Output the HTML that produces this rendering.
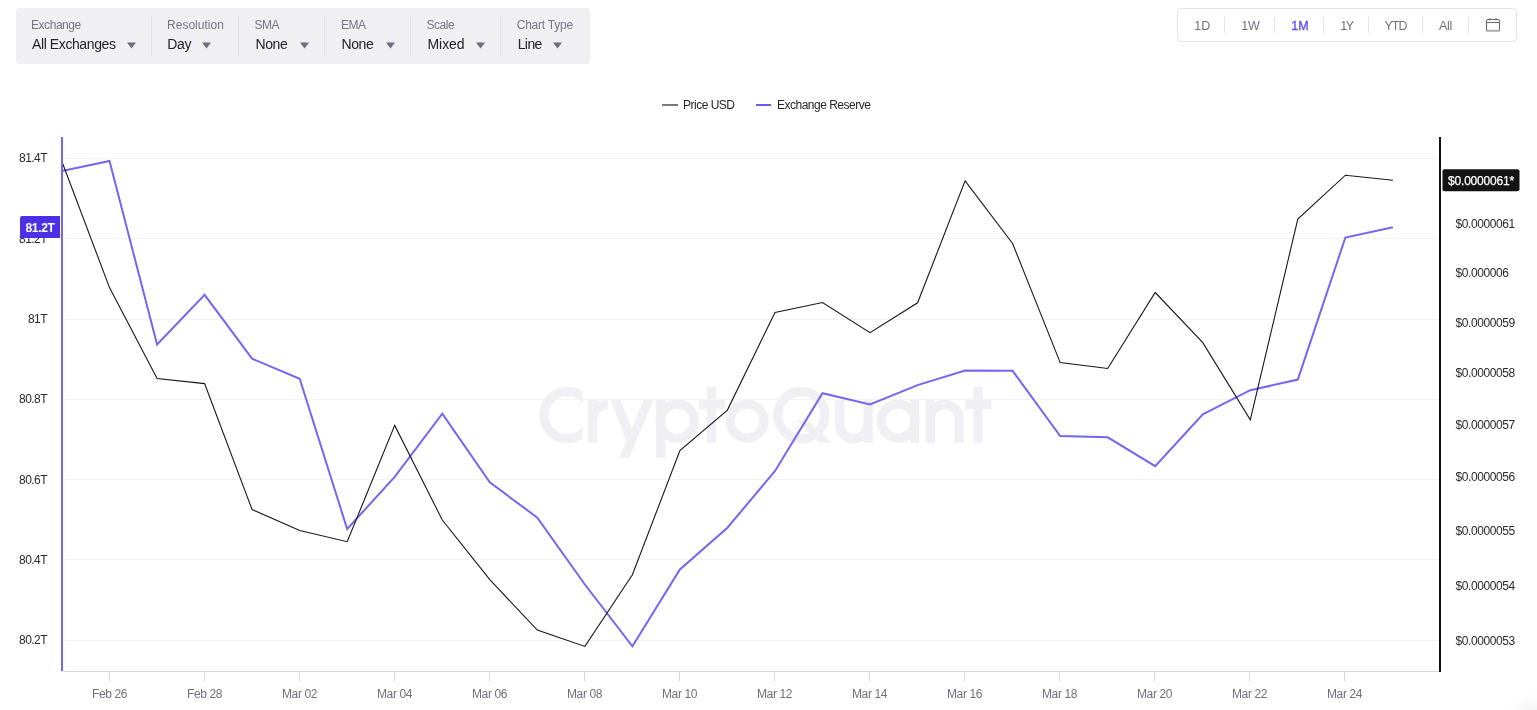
<!DOCTYPE html>
<html><head><meta charset="utf-8"><style>
html,body{margin:0;padding:0;background:#fff;width:1537px;height:710px;overflow:hidden;position:relative;font-family:"Liberation Sans", sans-serif}
.lab{position:absolute;top:17px;font-size:12px;line-height:16px;color:#767482;letter-spacing:-0.45px;white-space:nowrap}
.val{position:absolute;top:35px;font-size:14px;line-height:18px;color:#232323;letter-spacing:-0.4px;white-space:nowrap}
.btn{position:absolute;top:18px;width:60px;text-align:center;font-size:12.5px;line-height:16px;white-space:nowrap}
.leg{position:absolute;top:97px;font-size:12px;line-height:16px;color:#262626;letter-spacing:-0.5px;white-space:nowrap}
</style></head><body><div style="position:absolute;left:0;top:0;width:1537px;height:710px;overflow:hidden;will-change:transform;background:#fff">
<svg width="1537" height="710" style="position:absolute;left:0;top:0"><defs><clipPath id="cc"><rect x="530" y="380" width="52.8" height="70"/></clipPath></defs><g fill="#f0eff4" stroke="none"><circle cx="567.5" cy="415" r="23.6" fill="none" stroke="#f0eff4" stroke-width="9.2" clip-path="url(#cc)"/><rect x="588.1" y="399.7" width="9" height="42.8"/><path d="M592.6,420 Q593.5,404.35 607.8,404.35" fill="none" stroke="#f0eff4" stroke-width="9.2"/><polygon points="643.7,399.7 653.4,399.7 629.2,457.8 619.3,457.8"/><polygon points="610.4,399.7 620.6,399.7 636.5,441 626.5,441"/><rect x="656.2" y="399.7" width="9.3" height="58.1"/><circle cx="677.2" cy="421.2" r="17.2" fill="none" stroke="#f0eff4" stroke-width="9.2"/><rect x="706.9" y="386.7" width="9.2" height="55.8"/><rect x="699" y="399.7" width="26.2" height="9.2"/><circle cx="747" cy="421" r="17" fill="none" stroke="#f0eff4" stroke-width="9.2"/><circle cx="801.4" cy="415" r="23.6" fill="none" stroke="#f0eff4" stroke-width="9.2"/><polygon points="796.7,420.3 807.6,420.3 831,442.5 819.5,442.5"/><path d="M839.7,399.2 V424.5 A14.2,14.2 0 0 0 868.1,424.5" fill="none" stroke="#f0eff4" stroke-width="9.2"/><rect x="863.4" y="399.2" width="9.3" height="43.3"/><circle cx="898.2" cy="421" r="17" fill="none" stroke="#f0eff4" stroke-width="9.2"/><rect x="910.2" y="399.2" width="8.8" height="43.3"/><rect x="925.8" y="399.2" width="9.1" height="43.3"/><path d="M930.35,442.5 V418 A14.4,14.4 0 0 1 959.1,418 V442.5" fill="none" stroke="#f0eff4" stroke-width="9.2"/><rect x="973.5" y="386.7" width="9" height="55.8"/><rect x="965.3" y="399.2" width="26.1" height="9.7"/></g><rect x="64" y="158" width="1374" height="1" fill="#f3f3f5"/><rect x="64" y="238" width="1374" height="1" fill="#f3f3f5"/><rect x="64" y="319" width="1374" height="1" fill="#f3f3f5"/><rect x="64" y="399" width="1374" height="1" fill="#f3f3f5"/><rect x="64" y="479" width="1374" height="1" fill="#f3f3f5"/><rect x="64" y="559" width="1374" height="1" fill="#f3f3f5"/><rect x="64" y="640" width="1374" height="1" fill="#f3f3f5"/><text x="47" y="162" text-anchor="end" font-family=""Liberation Sans", sans-serif" font-size="12" letter-spacing="-0.55" fill="#2a2a2a">81.4T</text><text x="47" y="243" text-anchor="end" font-family=""Liberation Sans", sans-serif" font-size="12" letter-spacing="-0.55" fill="#2a2a2a">81.2T</text><text x="47" y="323" text-anchor="end" font-family=""Liberation Sans", sans-serif" font-size="12" letter-spacing="-0.55" fill="#2a2a2a">81T</text><text x="47" y="403" text-anchor="end" font-family=""Liberation Sans", sans-serif" font-size="12" letter-spacing="-0.55" fill="#2a2a2a">80.8T</text><text x="47" y="484" text-anchor="end" font-family=""Liberation Sans", sans-serif" font-size="12" letter-spacing="-0.55" fill="#2a2a2a">80.6T</text><text x="47" y="564" text-anchor="end" font-family=""Liberation Sans", sans-serif" font-size="12" letter-spacing="-0.55" fill="#2a2a2a">80.4T</text><text x="47" y="644" text-anchor="end" font-family=""Liberation Sans", sans-serif" font-size="12" letter-spacing="-0.55" fill="#2a2a2a">80.2T</text><text x="1455.5" y="227.8" font-family=""Liberation Sans", sans-serif" font-size="12" letter-spacing="-0.4" fill="#2a2a2a">$0.0000061</text><text x="1455.5" y="276.8" font-family=""Liberation Sans", sans-serif" font-size="12" letter-spacing="-0.4" fill="#2a2a2a">$0.000006</text><text x="1455.5" y="326.6" font-family=""Liberation Sans", sans-serif" font-size="12" letter-spacing="-0.4" fill="#2a2a2a">$0.0000059</text><text x="1455.5" y="377.3" font-family=""Liberation Sans", sans-serif" font-size="12" letter-spacing="-0.4" fill="#2a2a2a">$0.0000058</text><text x="1455.5" y="428.8" font-family=""Liberation Sans", sans-serif" font-size="12" letter-spacing="-0.4" fill="#2a2a2a">$0.0000057</text><text x="1455.5" y="481.3" font-family=""Liberation Sans", sans-serif" font-size="12" letter-spacing="-0.4" fill="#2a2a2a">$0.0000056</text><text x="1455.5" y="534.7" font-family=""Liberation Sans", sans-serif" font-size="12" letter-spacing="-0.4" fill="#2a2a2a">$0.0000055</text><text x="1455.5" y="589.8" font-family=""Liberation Sans", sans-serif" font-size="12" letter-spacing="-0.4" fill="#2a2a2a">$0.0000054</text><text x="1455.5" y="645.2" font-family=""Liberation Sans", sans-serif" font-size="12" letter-spacing="-0.4" fill="#2a2a2a">$0.0000053</text><rect x="62" y="671" width="1378" height="1" fill="#d6d6e4"/><rect x="109.0" y="672" width="1" height="9" fill="#d6d6e4"/><text x="109.5" y="698" text-anchor="middle" font-family=""Liberation Sans", sans-serif" font-size="12" letter-spacing="-0.4" fill="#6f6f7d">Feb 26</text><rect x="204.0" y="672" width="1" height="9" fill="#d6d6e4"/><text x="204.5" y="698" text-anchor="middle" font-family=""Liberation Sans", sans-serif" font-size="12" letter-spacing="-0.4" fill="#6f6f7d">Feb 28</text><rect x="299.0" y="672" width="1" height="9" fill="#d6d6e4"/><text x="299.5" y="698" text-anchor="middle" font-family=""Liberation Sans", sans-serif" font-size="12" letter-spacing="-0.4" fill="#6f6f7d">Mar 02</text><rect x="394.0" y="672" width="1" height="9" fill="#d6d6e4"/><text x="394.5" y="698" text-anchor="middle" font-family=""Liberation Sans", sans-serif" font-size="12" letter-spacing="-0.4" fill="#6f6f7d">Mar 04</text><rect x="489.0" y="672" width="1" height="9" fill="#d6d6e4"/><text x="489.5" y="698" text-anchor="middle" font-family=""Liberation Sans", sans-serif" font-size="12" letter-spacing="-0.4" fill="#6f6f7d">Mar 06</text><rect x="584.0" y="672" width="1" height="9" fill="#d6d6e4"/><text x="584.5" y="698" text-anchor="middle" font-family=""Liberation Sans", sans-serif" font-size="12" letter-spacing="-0.4" fill="#6f6f7d">Mar 08</text><rect x="679.0" y="672" width="1" height="9" fill="#d6d6e4"/><text x="679.5" y="698" text-anchor="middle" font-family=""Liberation Sans", sans-serif" font-size="12" letter-spacing="-0.4" fill="#6f6f7d">Mar 10</text><rect x="774.0" y="672" width="1" height="9" fill="#d6d6e4"/><text x="774.5" y="698" text-anchor="middle" font-family=""Liberation Sans", sans-serif" font-size="12" letter-spacing="-0.4" fill="#6f6f7d">Mar 12</text><rect x="869.0" y="672" width="1" height="9" fill="#d6d6e4"/><text x="869.5" y="698" text-anchor="middle" font-family=""Liberation Sans", sans-serif" font-size="12" letter-spacing="-0.4" fill="#6f6f7d">Mar 14</text><rect x="964.0" y="672" width="1" height="9" fill="#d6d6e4"/><text x="964.5" y="698" text-anchor="middle" font-family=""Liberation Sans", sans-serif" font-size="12" letter-spacing="-0.4" fill="#6f6f7d">Mar 16</text><rect x="1059.0" y="672" width="1" height="9" fill="#d6d6e4"/><text x="1059.5" y="698" text-anchor="middle" font-family=""Liberation Sans", sans-serif" font-size="12" letter-spacing="-0.4" fill="#6f6f7d">Mar 18</text><rect x="1154.0" y="672" width="1" height="9" fill="#d6d6e4"/><text x="1154.5" y="698" text-anchor="middle" font-family=""Liberation Sans", sans-serif" font-size="12" letter-spacing="-0.4" fill="#6f6f7d">Mar 20</text><rect x="1249.0" y="672" width="1" height="9" fill="#d6d6e4"/><text x="1249.5" y="698" text-anchor="middle" font-family=""Liberation Sans", sans-serif" font-size="12" letter-spacing="-0.4" fill="#6f6f7d">Mar 22</text><rect x="1344.0" y="672" width="1" height="9" fill="#d6d6e4"/><text x="1344.5" y="698" text-anchor="middle" font-family=""Liberation Sans", sans-serif" font-size="12" letter-spacing="-0.4" fill="#6f6f7d">Mar 24</text><polyline points="62.0,171.0 109.5,161.0 157.1,344.5 204.6,294.8 252.1,358.7 299.7,378.8 347.2,529.0 394.7,476.9 442.3,413.7 489.8,482.4 537.3,517.6 584.9,584.5 632.4,646.3 679.9,569.5 727.4,527.7 775.0,471.0 822.5,393.2 870.0,404.5 917.6,385.1 965.1,370.5 1012.6,370.8 1060.2,436.0 1107.7,437.3 1155.2,466.1 1202.8,414.3 1250.3,390.2 1297.8,379.6 1345.4,237.5 1392.9,227.3" fill="none" stroke="#7566f0" stroke-width="2" stroke-linejoin="miter"/><polyline points="62.0,161.7 109.5,287.6 157.1,378.6 204.6,383.6 252.1,509.6 299.7,530.6 347.2,541.7 394.7,425.4 442.3,520.0 489.8,579.6 537.3,630.1 584.9,646.4 632.4,574.8 679.9,450.6 727.4,410.1 775.0,312.4 822.5,302.5 870.0,332.6 917.6,302.8 965.1,180.8 1012.6,243.5 1060.2,362.6 1107.7,368.5 1155.2,292.5 1202.8,342.7 1250.3,419.8 1297.8,219.0 1345.4,175.2 1392.9,180.2" fill="none" stroke="#161616" stroke-width="1.1" stroke-linejoin="miter"/><rect x="61" y="137" width="2" height="534" fill="#7566f0"/><rect x="1439" y="137" width="2" height="535" fill="#111"/><path d="M22,216 H60 V238 H20 V218 Q20,216 22,216Z" fill="#4b30e6"/><text x="40" y="231.5" text-anchor="middle" font-family=""Liberation Sans", sans-serif" font-size="12" font-weight="bold" letter-spacing="-0.3" fill="#fff">81.2T</text><rect x="1442.5" y="169.2" width="77" height="22" rx="2" fill="#141414"/><text x="1481" y="184.5" text-anchor="middle" font-family=""Liberation Sans", sans-serif" font-size="12" letter-spacing="-0.2" fill="#fff" stroke="#fff" stroke-width="0.25">$0.0000061*</text><defs><radialGradient id="sh" cx="0.5" cy="0.5" r="0.5"><stop offset="0.7" stop-color="#000" stop-opacity="0.035"/><stop offset="1" stop-color="#000" stop-opacity="0"/></radialGradient></defs><circle cx="1541" cy="746" r="54" fill="url(#sh)"/></svg>
<div style="position:absolute;left:16px;top:8px;width:574px;height:56px;background:#f0f0f3;border-radius:4px"></div><div style="position:absolute;left:151px;top:16px;width:1px;height:40px;background:#e2e1e9"></div><div style="position:absolute;left:238px;top:16px;width:1px;height:40px;background:#e2e1e9"></div><div style="position:absolute;left:324px;top:16px;width:1px;height:40px;background:#e2e1e9"></div><div style="position:absolute;left:410px;top:16px;width:1px;height:40px;background:#e2e1e9"></div><div style="position:absolute;left:500px;top:16px;width:1px;height:40px;background:#e2e1e9"></div><div class="lab" style="left:31px;letter-spacing:-0.45px">Exchange</div><div class="val" style="left:32px;letter-spacing:-0.4px">All Exchanges</div><svg style="position:absolute;left:127px;top:42px" width="10" height="7"><path d="M0,0.5 L9,0.5 L4.5,6.5Z" fill="#6f6d7b"/></svg><div class="lab" style="left:167px;letter-spacing:0.02px">Resolution</div><div class="val" style="left:167.3px;letter-spacing:-0.4px">Day</div><svg style="position:absolute;left:202px;top:42px" width="10" height="7"><path d="M0,0.5 L9,0.5 L4.5,6.5Z" fill="#6f6d7b"/></svg><div class="lab" style="left:254.5px;letter-spacing:-0.45px">SMA</div><div class="val" style="left:255.5px;letter-spacing:-0.4px">None</div><svg style="position:absolute;left:300px;top:42px" width="10" height="7"><path d="M0,0.5 L9,0.5 L4.5,6.5Z" fill="#6f6d7b"/></svg><div class="lab" style="left:341px;letter-spacing:-0.45px">EMA</div><div class="val" style="left:341.5px;letter-spacing:-0.4px">None</div><svg style="position:absolute;left:386px;top:42px" width="10" height="7"><path d="M0,0.5 L9,0.5 L4.5,6.5Z" fill="#6f6d7b"/></svg><div class="lab" style="left:426.5px;letter-spacing:-0.45px">Scale</div><div class="val" style="left:427.5px;letter-spacing:-0.05px">Mixed</div><svg style="position:absolute;left:476px;top:42px" width="10" height="7"><path d="M0,0.5 L9,0.5 L4.5,6.5Z" fill="#6f6d7b"/></svg><div class="lab" style="left:516.7px;letter-spacing:-0.22px">Chart Type</div><div class="val" style="left:517.7px;letter-spacing:-0.6px">Line</div><svg style="position:absolute;left:553.3px;top:42px" width="10" height="7"><path d="M0,0.5 L9,0.5 L4.5,6.5Z" fill="#6f6d7b"/></svg>
<div style="position:absolute;left:1177px;top:8px;width:338px;height:32px;border:1px solid #e2e2e9;border-radius:4.5px;background:#fff"></div><div style="position:absolute;left:1224px;top:17px;width:1px;height:16px;background:#e2e2e9"></div><div style="position:absolute;left:1274px;top:17px;width:1px;height:16px;background:#e2e2e9"></div><div style="position:absolute;left:1323px;top:17px;width:1px;height:16px;background:#e2e2e9"></div><div style="position:absolute;left:1368px;top:17px;width:1px;height:16px;background:#e2e2e9"></div><div style="position:absolute;left:1422px;top:17px;width:1px;height:16px;background:#e2e2e9"></div><div style="position:absolute;left:1468px;top:17px;width:1px;height:16px;background:#e2e2e9"></div><div class="btn" style="left:1172.2px;color:#72707e;letter-spacing:0px;">1D</div><div class="btn" style="left:1220.5px;color:#72707e;letter-spacing:0px;">1W</div><div class="btn" style="left:1270.0px;color:#5e4ef0;letter-spacing:0px;-webkit-text-stroke:0.35px #5e4ef0;">1M</div><div class="btn" style="left:1316.4px;color:#72707e;letter-spacing:-1.6px;">1Y</div><div class="btn" style="left:1365.5px;color:#72707e;letter-spacing:-1.0px;">YTD</div><div class="btn" style="left:1415.4499999999998px;color:#72707e;letter-spacing:-0.3px;">All</div><svg style="position:absolute;left:1480px;top:12px" width="26" height="24"><rect x="6" y="17.8" width="14" height="2" rx="1" fill="#aeadb6"/><g fill="none" stroke="#6c6a78" stroke-width="1.1"><path d="M6.5,18.6 V9 Q6.5,7.5 8,7.5 H18 Q19.5,7.5 19.5,9 V18.6"/><line x1="6.5" y1="10.5" x2="19.5" y2="10.5"/></g><circle cx="10" cy="7.3" r="1.1" fill="#6c6a78"/><circle cx="16" cy="7.3" r="1.1" fill="#6c6a78"/></svg>
<div style="position:absolute;left:662px;top:104px;width:16px;height:2px;background:#7a7a7a"></div><div class="leg" style="left:683px">Price USD</div><div style="position:absolute;left:756px;top:104px;width:15px;height:2px;background:#6b5cf0"></div><div class="leg" style="left:777px">Exchange Reserve</div>
</div></body></html>
